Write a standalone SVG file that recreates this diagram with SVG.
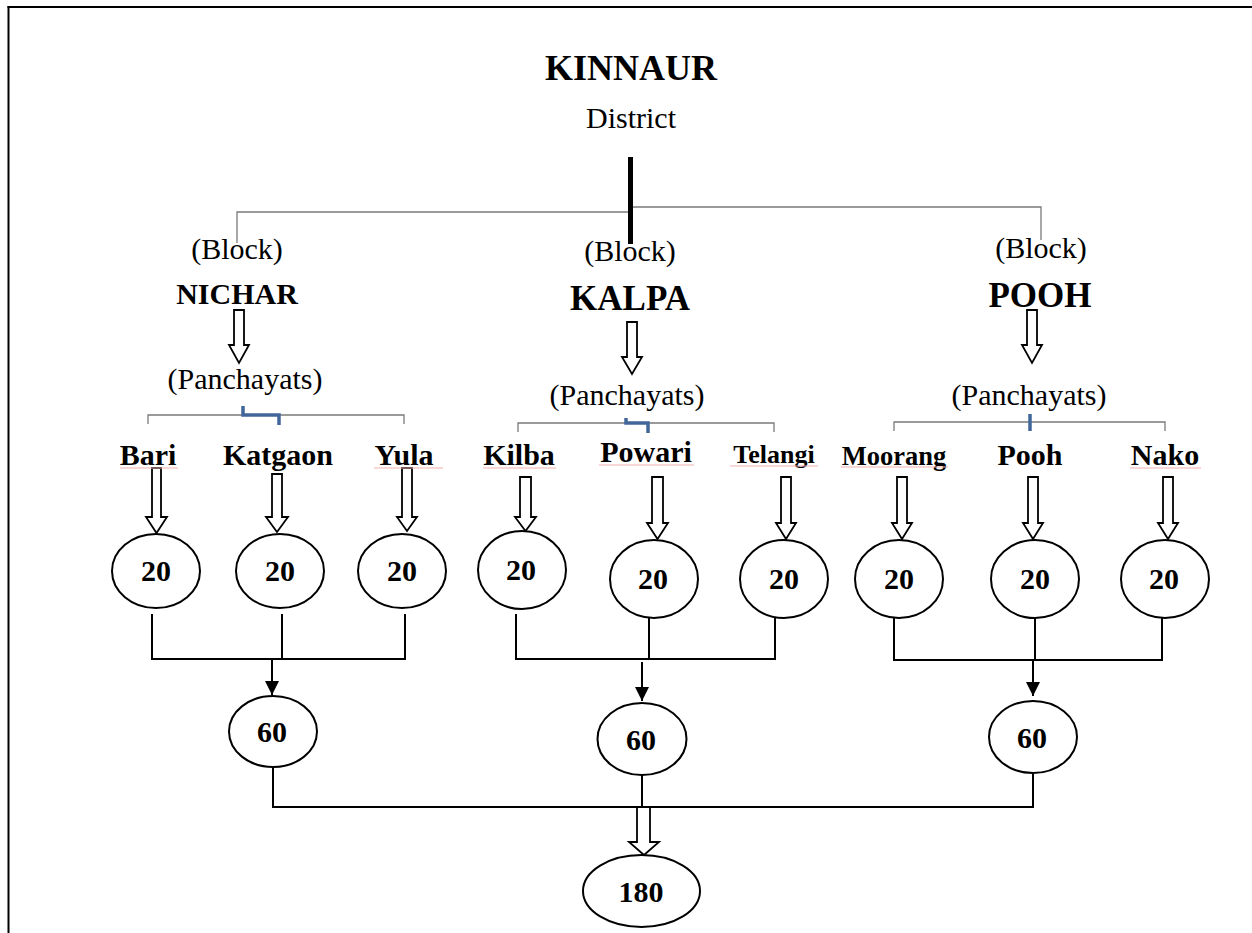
<svg xmlns="http://www.w3.org/2000/svg" width="1252" height="933" viewBox="0 0 1252 933">
<style>
text{font-family:"Liberation Serif","Times New Roman",serif;fill:#000}
.t{font-size:30px;text-anchor:middle}
.b{font-size:30px;font-weight:bold;text-anchor:middle}
.gl{stroke:#7a7a7a;stroke-width:1.3;fill:none}
.bl{stroke:#000;stroke-width:2;fill:none}
.hl{stroke:#41679a;stroke-width:3.5;fill:none}
.ul{stroke:#f2b0b0;stroke-width:1.2;fill:none}
.ba{fill:#fff;stroke:#000;stroke-width:1.8}
.el{fill:#fff;stroke:#000;stroke-width:2}
</style>
<defs>
<marker id="ah" markerWidth="14" markerHeight="14" refX="14" refY="7" orient="auto" markerUnits="userSpaceOnUse" viewBox="0 0 14 14"><path d="M0,0 L14,7 L0,14 z" fill="#000"/></marker>
</defs>
<rect width="1252" height="933" fill="#fff"/>
<g id="border">
<line x1="7.5" y1="7" x2="1252" y2="7" stroke="#000" stroke-width="2"/>
<line x1="8.5" y1="6" x2="8.5" y2="933" stroke="#000" stroke-width="2"/>
</g>
<g id="connectors">
<path class="gl" d="M237,243 V212 H631"/>
<path class="gl" d="M631,207 H1041 V240"/>
<line x1="630.5" y1="157" x2="630.5" y2="244" stroke="#000" stroke-width="5"/>
<path class="gl" d="M148,424 V415 H404 V424"/>
<path class="hl" d="M243,406 V415 H279 V425"/>
<path class="gl" d="M518,432 V423 H774 V432"/>
<path class="hl" d="M626,418 V423 H648 V433"/>
<path class="gl" d="M894,431 V422 H1165 V431"/>
<line class="hl" x1="1030" y1="414" x2="1030" y2="431" stroke-width="4"/>
<path class="bl" d="M152,614 V659 H405 V614 M282,614 V659"/>
<line class="bl" x1="272" y1="659" x2="272" y2="695" marker-end="url(#ah)"/>
<path class="bl" d="M516,614 V659 H775 V614 M649,614 V659"/>
<line class="bl" x1="642" y1="662" x2="642" y2="701" marker-end="url(#ah)"/>
<path class="bl" d="M894,614 V660 H1162 V614 M1035,614 V660"/>
<line class="bl" x1="1033" y1="660" x2="1033" y2="696" marker-end="url(#ah)"/>
<path class="bl" d="M273,767 V807 H1033 V774 M642,775 V807"/>
<path class="ba" d="M637,807 H650 V842 H659 L644,855 L629,842 H637 Z"/>
<path class="ba" d="M234,310 H244 V345 H249 L239,363 L229,345 H234 Z"/>
<path class="ba" d="M627,322 H637 V357 H642 L632,374 L622,357 H627 Z"/>
<path class="ba" d="M1027,310 H1037 V345 H1042 L1032,363 L1022,345 H1027 Z"/>
<path class="ba" d="M152,468 H161 V517 H167 L156.5,533 L146,517 H152 Z"/>
<path class="ba" d="M272,474 H282 V517 H288 L277,532 L266,517 H272 Z"/>
<path class="ba" d="M402,468 H412 V517 H417 L407,531 L397,517 H402 Z"/>
<path class="ba" d="M520,477 H531 V517 H536 L525.5,531 L515,517 H520 Z"/>
<path class="ba" d="M652,477 H663 V523 H668 L657.5,539 L647,523 H652 Z"/>
<path class="ba" d="M781,477 H791 V523 H796 L786,539 L776,523 H781 Z"/>
<path class="ba" d="M897,477 H907 V523 H912 L902,539 L892,523 H897 Z"/>
<path class="ba" d="M1028,477 H1038 V523 H1043 L1033,539 L1023,523 H1028 Z"/>
<path class="ba" d="M1163,477 H1173 V523 H1178 L1168,539 L1158,523 H1163 Z"/>
</g>
<g id="district">
<text x="631" y="80" style="font-size:36px;font-weight:bold;text-anchor:middle">KINNAUR</text>
<text class="t" x="631" y="128">District</text>
</g>
<g id="block-nichar">
<text class="t" x="237" y="259">(Block)</text>
<text class="b" x="237" y="304">NICHAR</text>
<text class="t" x="245" y="389">(Panchayats)</text>
</g>
<g id="block-kalpa">
<text class="t" x="630" y="261">(Block)</text>
<text x="630" y="310" style="font-size:35px;font-weight:bold;text-anchor:middle">KALPA</text>
<text class="t" x="627" y="405">(Panchayats)</text>
</g>
<g id="block-pooh">
<text class="t" x="1041" y="258">(Block)</text>
<text x="1040" y="307" style="font-size:35px;font-weight:bold;text-anchor:middle">POOH</text>
<text class="t" x="1029" y="405">(Panchayats)</text>
</g>
<g id="panchayat-names">
<text class="b" x="148" y="465">Bari</text>
<line class="ul" x1="120" y1="468" x2="178" y2="468"/>
<text class="b" x="278" y="465">Katgaon</text>
<text class="b" x="404" y="465">Yula</text>
<line class="ul" x1="374" y1="468" x2="443" y2="468"/>
<text class="b" x="519" y="465">Kilba</text>
<line class="ul" x1="483" y1="468" x2="556" y2="468"/>
<text class="b" x="646" y="462">Powari</text>
<line class="ul" x1="599" y1="465" x2="694" y2="465"/>
<text class="b" x="774" y="463" style="font-size:26px">Telangi</text>
<line class="ul" x1="730" y1="466" x2="818" y2="466"/>
<text class="b" x="894" y="465" style="font-size:26.5px">Moorang</text>
<line class="ul" x1="841" y1="467" x2="948" y2="467"/>
<text class="b" x="1030" y="465">Pooh</text>
<text class="b" x="1165" y="465">Nako</text>
<line class="ul" x1="1130" y1="468" x2="1201" y2="468"/>
</g>
<g id="n-bari"><ellipse class="el" cx="156" cy="571" rx="44" ry="37"/><text class="b" x="156" y="581">20</text></g>
<g id="n-katgaon"><ellipse class="el" cx="280" cy="571" rx="44" ry="37"/><text class="b" x="280" y="581">20</text></g>
<g id="n-yula"><ellipse class="el" cx="402" cy="571" rx="44" ry="37"/><text class="b" x="402" y="581">20</text></g>
<g id="n-kilba"><ellipse class="el" cx="522" cy="570" rx="44" ry="39"/><text class="b" x="521" y="580">20</text></g>
<g id="n-powari"><ellipse class="el" cx="654" cy="579" rx="44" ry="39"/><text class="b" x="653" y="589">20</text></g>
<g id="n-telangi"><ellipse class="el" cx="784" cy="579" rx="44" ry="39"/><text class="b" x="784" y="589">20</text></g>
<g id="n-moorang"><ellipse class="el" cx="899" cy="579" rx="44" ry="39"/><text class="b" x="899" y="589">20</text></g>
<g id="n-pooh"><ellipse class="el" cx="1035" cy="579" rx="44" ry="39"/><text class="b" x="1035" y="589">20</text></g>
<g id="n-nako"><ellipse class="el" cx="1165" cy="579" rx="44" ry="39"/><text class="b" x="1164" y="589">20</text></g>
<g id="n-nichar-total"><ellipse class="el" cx="273" cy="731.5" rx="44" ry="35.5"/><text class="b" x="272" y="742">60</text></g>
<g id="n-kalpa-total"><ellipse class="el" cx="642" cy="739" rx="44.5" ry="36"/><text class="b" x="641" y="750">60</text></g>
<g id="n-pooh-total"><ellipse class="el" cx="1033" cy="737" rx="44" ry="36"/><text class="b" x="1032" y="748">60</text></g>
<g id="n-total"><ellipse class="el" cx="641.5" cy="891" rx="58.5" ry="36"/><text class="b" x="641" y="902">180</text></g>
</svg>
